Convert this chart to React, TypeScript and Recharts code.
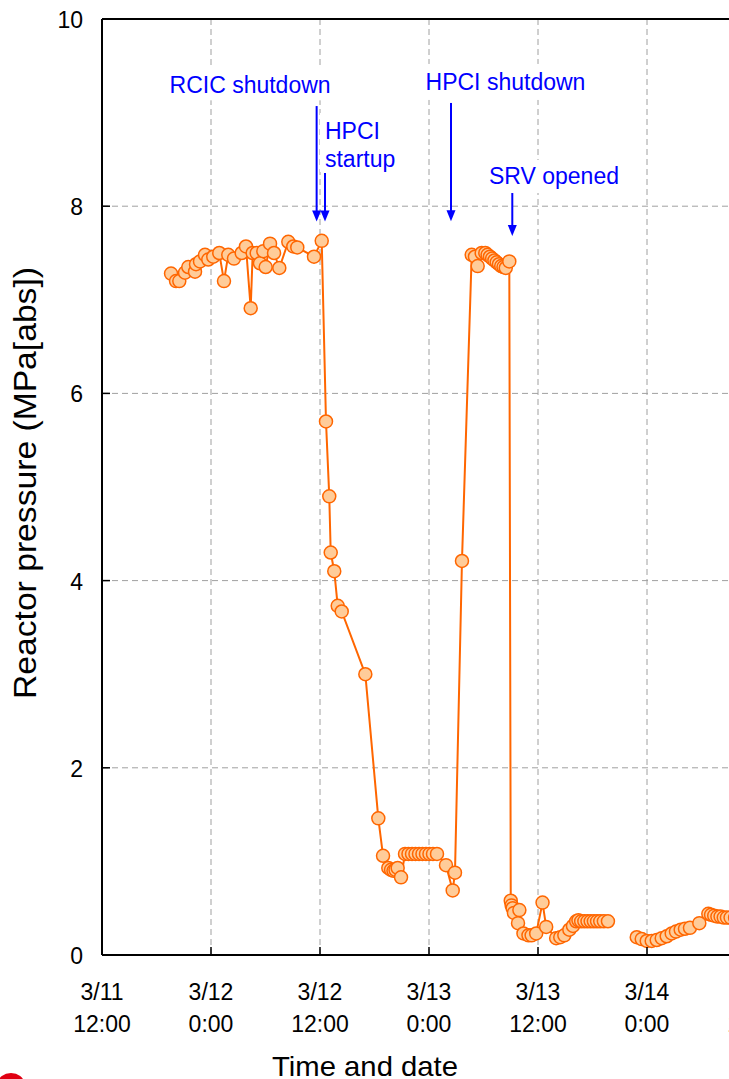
import React from 'react';
import { LineChart, Line, XAxis, YAxis, CartesianGrid, ReferenceLine, ReferenceDot } from 'recharts';

const FONT = '"Liberation Sans", Arial, Helvetica, sans-serif';

// Time in hours since 3/11 12:00
const timeHours: number[] = [
  // 3/11 evening - 3/12 noon
  7.6, 8.15, 8.51, 9.14, 9.5, 10.24, 10.35, 10.79, 11.34, 11.7, 12.25, 12.91, 13.43, 13.9, 14.53, 15.38,
  15.85, 16.37, 16.59, 17.03, 17.39, 17.76, 18.02, 18.5, 18.94, 19.52, 20.51, 21.06, 21.5, 23.34, 24.19,
  // depressurisation
  24.66, 25.02, 25.18, 25.57, 25.95, 26.39, 28.99, 30.42, 30.94, 31.52, 31.82, 32.09, 32.31, 32.55, 32.92,
  33.36, 33.74, 34.13, 34.51, 34.9, 35.28, 35.67, 36.05, 36.44, 36.88,
  37.87, 38.61, 38.86,
  // re-pressurisation
  39.63, 40.7, 41.06, 41.36, 41.8, 42.2, 42.45, 42.71, 42.95, 43.2, 43.45, 43.7, 43.95, 44.2, 44.45, 44.84,
  // SRV opened
  45.0, 45.1, 45.21, 45.35, 45.95, 45.8, 46.4, 46.95, 47.3, 47.8, 48.5, 48.9, 50.0, 50.45, 50.9, 51.45,
  51.85, 52.2, 52.45, 52.75, 53.1, 53.45, 53.8, 54.15, 54.5, 54.85, 55.25, 55.7,
  // gap
  57.0,
  // 3/14
  58.87, 59.42, 59.97, 60.52, 61.07, 61.62, 62.17, 62.72, 63.19, 63.71, 64.18, 64.73, 65.76, 66.75, 67.05,
  67.4, 67.75, 68.1, 68.45, 68.8, 69.2, 69.7, 70.2,
];

// Reactor pressure, MPa[abs]
const pressureMPa: (number | null)[] = [
  7.28, 7.2, 7.2, 7.29, 7.35, 7.3, 7.38, 7.41, 7.48, 7.43, 7.46, 7.5, 7.2, 7.48, 7.44, 7.5,
  7.57, 6.91, 7.5, 7.5, 7.39, 7.52, 7.35, 7.6, 7.5, 7.34, 7.62, 7.57, 7.56, 7.46, 7.63,
  5.7, 4.9, 4.3, 4.1, 3.73, 3.67, 3.0, 1.46, 1.06, 0.93, 0.91, 0.9, 0.91, 0.93, 0.83,
  1.08, 1.08, 1.08, 1.08, 1.08, 1.08, 1.08, 1.08, 1.08, 1.08,
  0.96, 0.69, 0.88,
  4.21, 7.48, 7.46, 7.36, 7.5, 7.5, 7.48, 7.46, 7.44, 7.42, 7.4, 7.38, 7.36, 7.35, 7.34, 7.41,
  0.58, 0.53, 0.5, 0.45, 0.48, 0.34, 0.23, 0.21, 0.21, 0.23, 0.56, 0.3, 0.18, 0.19, 0.21, 0.27,
  0.31, 0.36, 0.37, 0.36, 0.36, 0.36, 0.36, 0.36, 0.36, 0.36, 0.36, 0.36,
  null,
  0.19, 0.17, 0.15, 0.15, 0.16, 0.18, 0.2, 0.23, 0.25, 0.27, 0.28, 0.29, 0.34, 0.44, 0.43,
  0.42, 0.41, 0.41, 0.4, 0.4, 0.4, 0.4, 0.4,
];

const xTickHours = [0, 12, 24, 36, 48, 60, 72, 84];
const xTickDates = ['3/11', '3/12', '3/12', '3/13', '3/13', '3/14', '3/14', '3/15'];
const xTickTimes = ['12:00', '0:00', '12:00', '0:00', '12:00', '0:00', '12:00', '0:00'];
const yTicks = [0, 2, 4, 6, 8, 10];

// Events (hours since 3/11 12:00)
const eventNames = ['RCIC shutdown', 'HPCI startup', 'HPCI shutdown', 'SRV opened'];
const eventHours = [23.63, 24.55, 38.42, 45.17];

// annotation layout (in axis units)
const arrowTop = [9.07, 8.355, 9.103, 8.184];
const arrowTip = [7.837, 7.837, 7.84, 7.682];

const labelDefs = [
  { lines: ['RCIC shutdown'], h: 16.3, p: 9.206, anchor: 'middle', box: [-88, -26, 176, 33] },
  { lines: ['HPCI', 'startup'], h: 24.55, p: 8.718, anchor: 'start', box: [-5, -26, 82, 59] },
  { lines: ['HPCI shutdown'], h: 44.42, p: 9.242, anchor: 'middle', box: [-88, -26, 176, 36] },
  { lines: ['SRV opened'], h: 49.76, p: 8.237, anchor: 'middle', box: [-70, -24, 140, 33] },
];

const data = timeHours.map((h, i) => ({ h, p: pressureMPa[i] }));

const BLUE = '#0000FF';
const ORANGE = '#FF6600';

const XTick = (props: any) => {
  const { x, y, payload } = props;
  const idx = xTickHours.indexOf(payload.value);
  return (
    <g>
      <line x1={x} x2={x} y1={y - 8} y2={y} stroke="#000" strokeWidth={1.5} />
      <text x={x} y={y + 45} textAnchor="middle" fontSize={23} fontFamily={FONT} fill="#000">
        {xTickDates[idx]}
      </text>
      <text x={x} y={y + 76.5} textAnchor="middle" fontSize={23} fontFamily={FONT} fill="#000">
        {xTickTimes[idx]}
      </text>
    </g>
  );
};

const YTick = (props: any) => {
  const { x, y, payload } = props;
  return (
    <g>
      <line x1={x} x2={x + 8} y1={y} y2={y} stroke="#000" strokeWidth={1.5} />
      <text x={x - 19} y={y + 9} textAnchor="end" fontSize={23} fontFamily={FONT} fill="#000">
        {payload.value}
      </text>
    </g>
  );
};

const YTitle = () => {
  const cx = 36;
  const cy = 483;
  return (
    <text
      x={cx}
      y={cy}
      transform={`rotate(-90 ${cx} ${cy})`}
      textAnchor="middle"
      fontSize={31}
      fontFamily={FONT}
      fill="#000"
      textLength={432}
      lengthAdjust="spacingAndGlyphs"
    >
      Reactor pressure (MPa[abs])
    </text>
  );
};

const XTitle = () => {
  return (
    <text
      x={365}
      y={1076}
      textAnchor="middle"
      fontSize={28}
      fontFamily={FONT}
      fill="#000"
      textLength={186}
      lengthAdjust="spacingAndGlyphs"
    >
      Time and date
    </text>
  );
};

const makeLabelShape = (def: any) => (props: any) => {
  const { cx, cy } = props;
  const [bx, by, bw, bh] = def.box;
  return (
    <g>
      <rect x={cx + bx} y={cy + by} width={bw} height={bh} fill="#fff" />
      {def.lines.map((t: string, i: number) => (
        <text
          key={i}
          x={cx}
          y={cy + i * 27.7}
          textAnchor={def.anchor}
          fontSize={23}
          fontFamily={FONT}
          fill={BLUE}
        >
          {t}
        </text>
      ))}
    </g>
  );
};

const ArrowHead = (props: any) => {
  const { cx, cy } = props;
  return <polygon points={`${cx - 4.5},${cy - 11} ${cx + 4.5},${cy - 11} ${cx},${cy}`} fill={BLUE} />;
};

export default function App() {
  return (
    <div
      style={{
        position: 'fixed',
        left: 0,
        top: 0,
        width: 729,
        height: 1079,
        overflow: 'hidden',
        background: '#fff',
      }}
    >
      <LineChart width={880} height={1079} data={data} margin={{ top: 19, right: 15, bottom: 0, left: 0 }}>
        <CartesianGrid stroke="#A0A0A0" strokeDasharray="6 4" strokeWidth={1} />
        <XAxis
          type="number"
          dataKey="h"
          domain={[0, 84]}
          ticks={xTickHours}
          interval={0}
          height={124}
          tickSize={0}
          tickMargin={0}
          tickLine={false}
          tick={<XTick />}
          axisLine={{ stroke: '#000', strokeWidth: 2 }}
          allowDataOverflow
          label={() => <XTitle />}
        />
        <YAxis
          type="number"
          domain={[0, 10]}
          ticks={yTicks}
          interval={0}
          width={102}
          tickSize={0}
          tickMargin={0}
          tickLine={false}
          tick={<YTick />}
          axisLine={{ stroke: '#000', strokeWidth: 2 }}
          label={() => <YTitle />}
        />
        <ReferenceLine y={10} stroke="#000" strokeWidth={2} />
        {labelDefs.map((d, i) => (
          <ReferenceDot key={'lbl' + i} x={d.h} y={d.p} r={1} shape={makeLabelShape(d)} />
        ))}
        {eventHours.map((h, i) => (
          <ReferenceLine
            key={'arr' + i}
            segment={[
              { x: h, y: arrowTop[i] },
              { x: h, y: arrowTip[i] + 0.08 },
            ]}
            stroke={BLUE}
            strokeWidth={2}
          />
        ))}
        {eventHours.map((h, i) => (
          <ReferenceDot key={'head' + i} x={h} y={arrowTip[i]} r={1} shape={ArrowHead} />
        ))}
        <Line
          type="linear"
          dataKey="p"
          name={eventNames.length ? 'Reactor pressure' : ''}
          stroke={ORANGE}
          strokeWidth={2}
          dot={{ r: 6.5, fill: '#FFCC99', stroke: ORANGE, strokeWidth: 1.5 }}
          activeDot={false}
          isAnimationActive={false}
          connectNulls={false}
        />
      </LineChart>
      <div
        style={{
          position: 'absolute',
          left: -2,
          top: 1073,
          width: 26,
          height: 20,
          borderRadius: '50%',
          background: '#E00012',
        }}
      />
    </div>
  );
}
